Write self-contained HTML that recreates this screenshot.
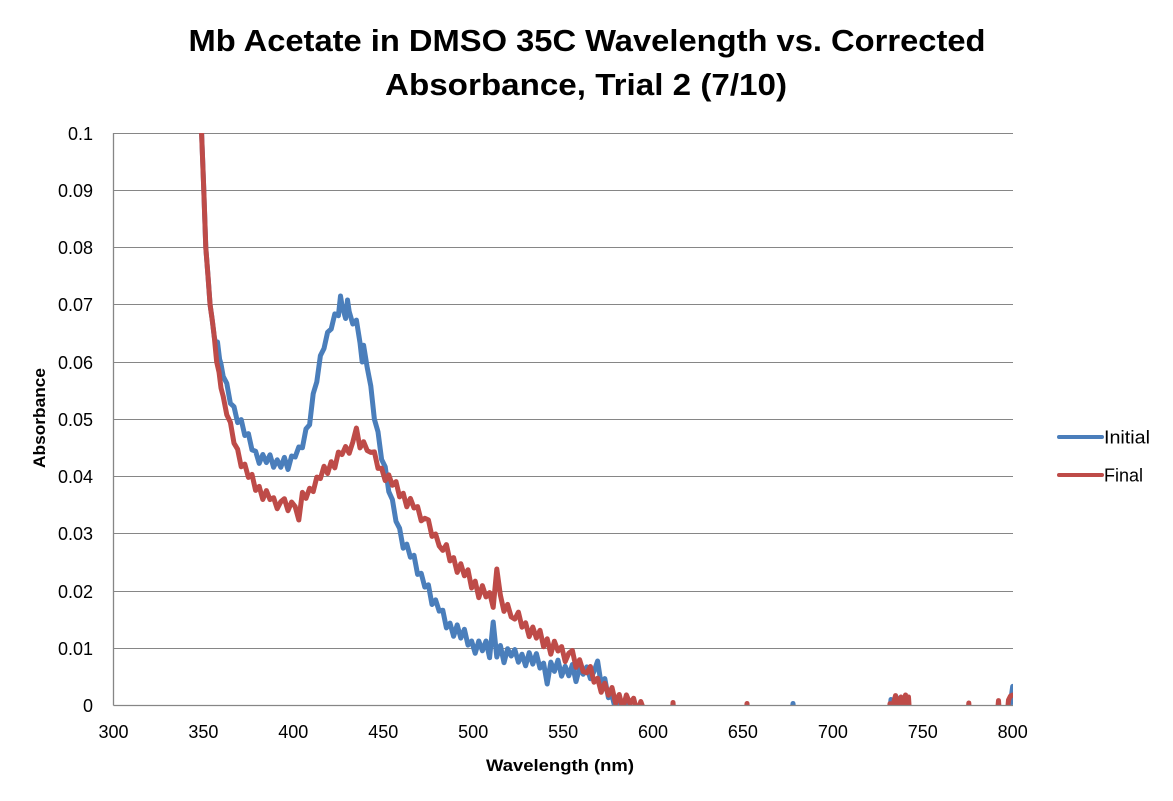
<!DOCTYPE html>
<html>
<head>
<meta charset="utf-8">
<style>
  html,body{margin:0;padding:0;background:#fff;}
  svg{display:block;}
  text{font-family:"Liberation Sans", Arial, sans-serif; fill:#000;}
</style>
</head>
<body>
<svg width="1173" height="801" viewBox="0 0 1173 801" xmlns="http://www.w3.org/2000/svg">
  <rect x="0" y="0" width="1173" height="801" fill="#fff"/>
  <defs>
    <clipPath id="plotclip">
      <rect x="113.5" y="133" width="899.5" height="572.5"/>
    </clipPath>
  </defs>

  <!-- Title -->
  <text x="587" y="51" font-size="31" font-weight="bold" text-anchor="middle" textLength="797" lengthAdjust="spacingAndGlyphs">Mb Acetate in DMSO 35C Wavelength vs. Corrected</text>
  <text x="586" y="95" font-size="31" font-weight="bold" text-anchor="middle" textLength="402" lengthAdjust="spacingAndGlyphs">Absorbance, Trial 2 (7/10)</text>

  <!-- Gridlines -->
  <g stroke="#868686" stroke-width="1" fill="none">
    <line x1="113.5" y1="133.5" x2="1013" y2="133.5"/>
    <line x1="113.5" y1="190.5" x2="1013" y2="190.5"/>
    <line x1="113.5" y1="247.5" x2="1013" y2="247.5"/>
    <line x1="113.5" y1="304.5" x2="1013" y2="304.5"/>
    <line x1="113.5" y1="362.5" x2="1013" y2="362.5"/>
    <line x1="113.5" y1="419.5" x2="1013" y2="419.5"/>
    <line x1="113.5" y1="476.5" x2="1013" y2="476.5"/>
    <line x1="113.5" y1="533.5" x2="1013" y2="533.5"/>
    <line x1="113.5" y1="591.5" x2="1013" y2="591.5"/>
    <line x1="113.5" y1="648.5" x2="1013" y2="648.5"/>
  </g>

  <!-- Series -->
  <g clip-path="url(#plotclip)" fill="none" stroke-width="5" stroke-linejoin="round" stroke-linecap="round">
    <path stroke="#4A7EBB" d="M200.7,110.4 L203.4,179.1 L205.8,247.7 L208,276 L210.1,304.9 L212,318 L214.2,336.4 L216,345 L217.5,342 L219.6,359.2 L221,364 L223.2,376.4
      L226.8,383.4 L230.4,403.4 L234.0,406.7 L237.6,422.6 L241.2,419.6 L244.8,435.5 L248.4,433.6 L252.0,449.9 L255.6,451.2 L259.2,463.4
      L262.8,454.5 L266.4,462.6 L270.0,454.8 L273.6,467.3 L277.2,459.8 L280.8,467.3 L284.4,457.4 L288.0,469.5 L291.6,456.0 L295.2,457.0
      L298.8,447.0 L302.4,447.8 L306.0,428.9 L309.6,424.7 L313.2,393.7 L316.8,381.9 L320.4,355.6 L324.0,348.5 L327.6,332.2 L331.2,329.0
      L334.8,313.9 L338.4,315.7 L340.5,296 L342.0,305.4 L345.6,318.5 L347.5,300 L349.2,311.6 L352.8,324.0 L356.4,320.1 L360.0,342.7
      L362.2,362 L363.6,345.3 L367.2,367.5 L370.8,386.0 L374.4,419.3 L378.0,431.8 L381.6,459.5 L385.2,466.7 L388.8,491.7 L392.4,499.6
      L396.0,521.4 L399.6,528.3 L403.2,548.2 L406.8,544.1 L410.4,557.2 L414.0,555.3 L417.6,574.4 L421.2,573.3 L424.8,587.1 L428.4,584.8
      L432.0,604.5 L435.6,599.9 L439.2,611.1 L442.8,610.2 L446.4,627.9 L450.0,623.1 L453.6,636.3 L457.2,624.9 L460.8,638.1 L464.4,629.3
      L468.0,645.1 L471.6,641.0 L475.2,653.3 L478.8,641.0 L482.4,650.8 L486.0,641.0 L489.6,657.7 L493.2,622 L496.8,657.0 L500.4,645.5
      L504.0,662.7 L507.6,648.7 L511.2,656.0 L514.8,649.5 L518.4,662.2 L522.0,654.2 L525.6,665.8 L529.2,652.6 L532.8,664.1 L536.4,653.6
      L540.0,668.1 L543.6,663.1 L547.2,684 L550.8,662.1 L554.4,671.4 L558.0,660.1 L561.6,676.2 L565.2,666.2 L568.8,675.8 L572.4,664.5
      L576.0,681.6 L579.6,667.6 L583.2,674.3 L586.8,666.9 L590.4,678.7 L594.0,671.5 L597.6,661 L601.2,684.2 L604.8,678.6 L608.4,697.7
      L612.0,695.7 L615.6,709.6 L619.2,698.7 L622.8,709.6 L626.4,703 L630,712 L640,718 L653,728
      L660,728 L790,728 L793,703.5 L796,728 L888,728 L891,699.5 L893,705 L896,696.5 L898,728 L1008,728 L1010.9,699.6 L1012.7,686.4"/>
    <path stroke="#BE4B48" d="M200.7,110.4 L203.8,190.5 L205.8,247.7 L208,276 L210.1,304.9 L212.5,322 L214,334 L216.7,362.1 L219,372 L221,388 L223.2,396.4
      L226.8,414.9 L230.4,422.3 L234.0,443.2 L237.6,449.2 L241.2,466.8 L244.8,464.1 L248.4,477.4 L252.0,474.4 L255.6,490.4 L259.2,486.4
      L262.8,499.5 L266.4,490.6 L270.0,499.6 L273.6,497.7 L277.2,508.7 L280.8,501.7 L284.4,498.7 L288.0,510.7 L291.6,502.0 L295.2,506.7
      L298.8,520 L302.4,492.4 L306.0,498.4 L309.6,488.2 L313.2,491.6 L316.8,477.1 L320.4,478.6 L324.0,466.3 L327.6,473.5 L331.2,461.7
      L334.8,467.9 L338.4,452.1 L342.0,454.6 L345.6,446.5 L349.2,453.3 L352.8,442.1 L356.4,428 L360.0,447.9 L363.6,441.7 L367.2,450.5
      L370.8,452.4 L374.4,451.9 L378.0,468.4 L381.6,468.2 L385.2,480.6 L388.8,474.9 L392.4,485.3 L396.0,481.6 L399.6,496.9 L403.2,493.2
      L406.8,506.8 L410.4,498.4 L414.0,508.0 L417.6,506.6 L421.2,520.8 L424.8,518.3 L428.4,519.9 L432.0,536.4 L435.6,534.0 L439.2,545.9
      L442.8,550.4 L446.4,544.6 L450.0,560.9 L453.6,557.6 L457.2,572.4 L460.8,563.7 L464.4,575.8 L468.0,569.8 L471.6,588.0 L475.2,581.1
      L478.8,597.7 L482.4,585.6 L486.0,596.9 L489.6,592.6 L493.2,607.4 L496.8,569 L500.4,595.2 L504.0,611.4 L507.6,604.4 L511.2,616.9
      L514.8,619.1 L518.4,612.1 L522.0,627.2 L525.6,622.8 L529.2,636.6 L532.8,627.0 L536.4,638.1 L540.0,630.3 L543.6,646.8 L547.2,638.8
      L550.8,654.2 L554.4,641.2 L558.0,651.0 L561.6,646.6 L565.2,661.6 L568.8,653.2 L572.4,650.5 L576.0,667.4 L579.6,659.7 L583.2,671.5
      L586.8,672.8 L590.4,666.5 L594.0,682.2 L597.6,678.2 L601.2,692.3 L604.8,683.2 L608.4,695.2 L612.0,687.5 L615.6,703.3 L619.2,694.5
      L622.8,709.0 L626.4,694.9 L630.0,703.7 L633.6,698.2 L637.2,712.2 L640.8,701.5 L644.4,711.5 L648,708 L651,712 L660,722
      L670,728 L671.5,728 L673,702.5 L675,728 L745,728 L747,703.5 L749,728 L888,728 L890,703.6 L892,728 L893,705 L895.5,695.6 L897.5,728
      L899,700 L901,697 L903,728 L905.5,695 L907.5,728 L908.5,697 L910.5,728 L967,728 L968.8,703 L970.5,728 L996,728 L998.5,700.6
      L1000.5,728 L1006,728 L1008.5,700 L1010.5,696 L1012.7,695"/>
  </g>

  <!-- Axes -->
  <g stroke="#868686" stroke-width="1.3" fill="none">
    <line x1="113.5" y1="133" x2="113.5" y2="705.5"/>
    <line x1="113.5" y1="705.5" x2="1013" y2="705.5"/>
  </g>

  <!-- Y tick labels -->
  <g font-size="18" text-anchor="end">
    <text x="93" y="140">0.1</text>
    <text x="93" y="197">0.09</text>
    <text x="93" y="254">0.08</text>
    <text x="93" y="311">0.07</text>
    <text x="93" y="369">0.06</text>
    <text x="93" y="426">0.05</text>
    <text x="93" y="483">0.04</text>
    <text x="93" y="540">0.03</text>
    <text x="93" y="598">0.02</text>
    <text x="93" y="655">0.01</text>
    <text x="93" y="712">0</text>
  </g>

  <!-- X tick labels -->
  <g font-size="18" text-anchor="middle">
    <text x="113.5" y="738">300</text>
    <text x="203.4" y="738">350</text>
    <text x="293.3" y="738">400</text>
    <text x="383.3" y="738">450</text>
    <text x="473.2" y="738">500</text>
    <text x="563.1" y="738">550</text>
    <text x="653" y="738">600</text>
    <text x="742.9" y="738">650</text>
    <text x="832.9" y="738">700</text>
    <text x="922.8" y="738">750</text>
    <text x="1012.7" y="738">800</text>
  </g>

  <!-- Axis titles -->
  <text x="486" y="771" font-size="17" font-weight="bold" textLength="148" lengthAdjust="spacingAndGlyphs">Wavelength (nm)</text>
  <text transform="translate(45,418) rotate(-90)" font-size="17" font-weight="bold" text-anchor="middle" textLength="100" lengthAdjust="spacingAndGlyphs">Absorbance</text>

  <!-- Legend -->
  <line x1="1059" y1="437" x2="1102" y2="437" stroke="#4A7EBB" stroke-width="4" stroke-linecap="round"/>
  <text x="1104" y="443.5" font-size="18" textLength="46" lengthAdjust="spacingAndGlyphs">Initial</text>
  <line x1="1059" y1="475" x2="1102" y2="475" stroke="#BE4B48" stroke-width="4" stroke-linecap="round"/>
  <text x="1104" y="481.5" font-size="18" textLength="39" lengthAdjust="spacingAndGlyphs">Final</text>
</svg>
</body>
</html>
